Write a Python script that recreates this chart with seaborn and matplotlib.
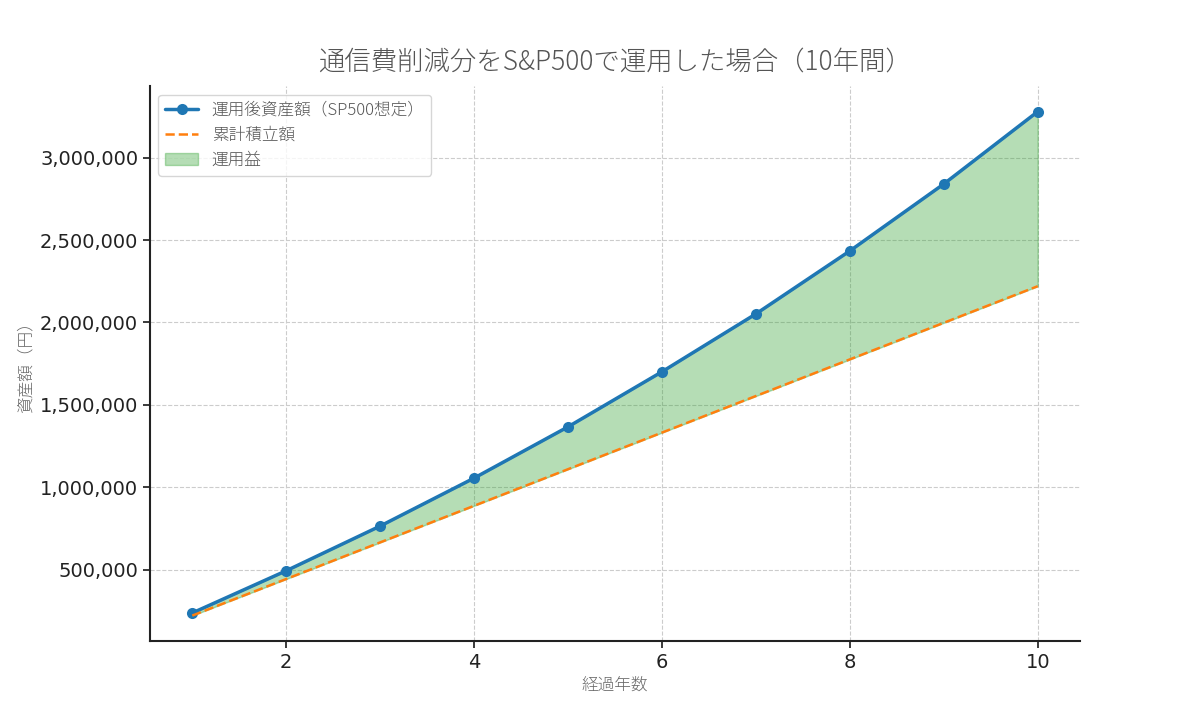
import matplotlib
matplotlib.use("Agg")
import matplotlib.pyplot as plt
import matplotlib.ticker as mticker
import seaborn as sns
import pandas as pd
import numpy as np

# data
years = [1, 2, 3, 4, 5, 6, 7, 8, 9, 10]
asset_values = [238000, 494000, 765000, 1056000, 1367000,
                1701000, 2052000, 2434000, 2840000, 3279000]
contributions = [222000, 444000, 666000, 888000, 1110000,
                 1332000, 1554000, 1776000, 1998000, 2220000]

title = "通信費削減分をS&P500で運用した場合（10年間）"
xlabel = "経過年数"
ylabel = "資産額（円）"
label_assets = "運用後資産額（SP500想定）"
label_contrib = "累計積立額"
label_gain = "運用益"

df = pd.DataFrame({"year": years, "assets": asset_values, "contrib": contributions})

sns.set_theme(style="ticks")
plt.rcParams["font.family"] = ["DejaVu Sans", "Noto Sans CJK JP"]
jp = ["Noto Sans CJK JP", "DejaVu Sans"]

fig, ax = plt.subplots(figsize=(12, 7.2), dpi=100)

sns.lineplot(data=df, x="year", y="assets", ax=ax, color="#1f77b4",
             linewidth=2.5, marker="o", markersize=8, markeredgewidth=0,
             label=label_assets)
sns.lineplot(data=df, x="year", y="contrib", ax=ax, color="#ff7f0e",
             linewidth=1.8, linestyle="--", label=label_contrib)
ax.fill_between(df["year"], df["contrib"], df["assets"], color="#2ca02c",
                alpha=0.35, label=label_gain)

ax.set_title(title, fontsize=19, color="#555555", family=jp,
             fontweight="light", pad=12)
ax.set_xlabel(xlabel, fontsize=12, color="#666666", family=jp, fontweight="light")
ax.set_ylabel(ylabel, fontsize=12, color="#666666", family=jp, fontweight="light")

ax.yaxis.set_major_formatter(mticker.FuncFormatter(lambda v, p: f"{int(v):,}"))
ax.tick_params(axis="both", labelsize=14, colors="#222222", length=5)
ax.grid(True, linestyle="--", color="#cccccc", linewidth=0.8)
sns.despine(ax=ax)
for s in ["left", "bottom"]:
    ax.spines[s].set_linewidth(1.5)
    ax.spines[s].set_color("#222222")

leg = ax.legend(loc="upper left", prop={"family": jp, "size": 12, "weight": "light"},
                frameon=True, fancybox=True, handlelength=2.0)
for t in leg.get_texts():
    t.set_color("#555555")
leg.get_frame().set_edgecolor("#cccccc")

plt.subplots_adjust(left=0.125, right=0.9, top=0.88, bottom=0.11)
plt.savefig("out.png", dpi=100)
